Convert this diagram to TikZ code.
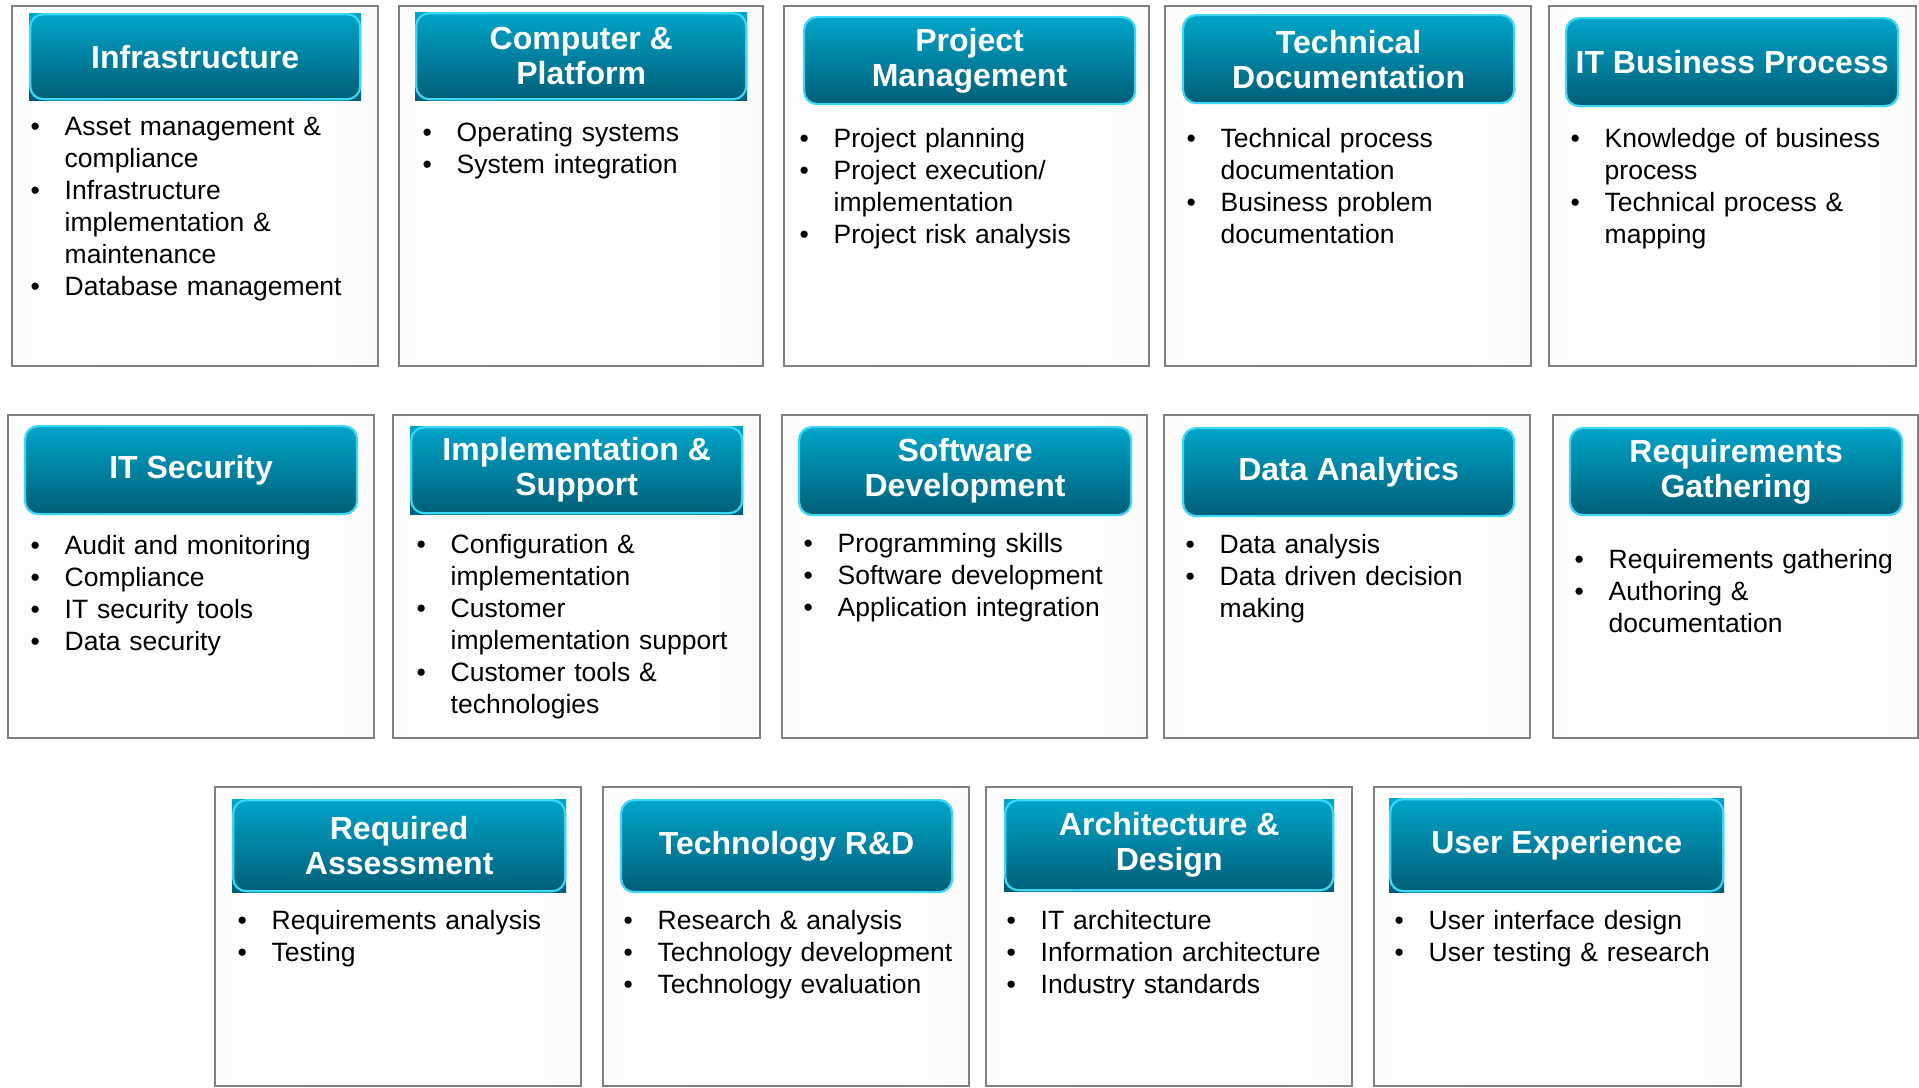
\documentclass[tikz,border=0pt]{standalone}
\usepackage{fontspec}
\setmainfont{Liberation Sans}
\begin{document}
\definecolor{headtop}{HTML}{00A5CA}
\definecolor{headbot}{HTML}{005E76}
\definecolor{headrim}{HTML}{3CD6F6}
\definecolor{cardline}{HTML}{808080}
\pgfdeclarehorizontalshading{cardshade}{100bp}{color(0bp)=(white!97!black); color(40bp)=(white); color(65bp)=(white); color(100bp)=(white!93!black)}
\newcommand\bl{\makebox[34pt][l]{\textbullet}}
\newcommand\ct{\hspace*{34pt}}
\begin{tikzpicture}[x=1pt,y=-1pt,
  cardbox/.style={draw=cardline, line width=1.8pt, inner sep=0pt, shading=cardshade},
  headround/.style={draw=headrim, line width=2.2pt, rounded corners=13pt,
    top color=headtop, bottom color=headbot, inner sep=0pt,
    text=white, align=center, font=\bfseries\fontsize{32}{35}\selectfont},
  headsquare/.style={top color=headtop, bottom color=headbot, inner sep=0pt,
    text=white, align=center, font=\bfseries\fontsize{32}{35}\selectfont},
  rim/.style={draw=headrim, line width=2.2pt, rounded corners=13pt},
  body/.style={anchor=base west, inner sep=0pt, text width=340pt, align=left,
    font=\fontsize{26.5}{32}\selectfont}]
\useasboundingbox (0,0) rectangle (1919,1087);

% ---------- first row ----------
\node[cardbox, anchor=north west, minimum width=366pt, minimum height=360pt] (c1) at (11,5) {};
\node[headsquare, anchor=north west, minimum width=332pt, minimum height=87pt] (h1) at (29,13) {Infrastructure};
\draw[rim] ([shift={(1.2,1.2)}]h1.north west) rectangle ([shift={(-1.2,-1.2)}]h1.south east);
\node[body] (b1) at (30.5,135) {\bl Asset management \&\\ \ct compliance\\ \bl Infrastructure\\ \ct implementation \&\\ \ct maintenance\\ \bl Database management};

\node[cardbox, anchor=north west, minimum width=364pt, minimum height=360pt] (c2) at (398,5) {};
\node[headsquare, anchor=north west, minimum width=332pt, minimum height=88pt] (h2) at (415,12) {Computer \&\\ Platform};
\draw[rim] ([shift={(1.2,1.2)}]h2.north west) rectangle ([shift={(-1.2,-1.2)}]h2.south east);
\node[body] (b2) at (422.5,141) {\bl Operating systems\\ \bl System integration};

\node[cardbox, anchor=north west, minimum width=365pt, minimum height=360pt] (c3) at (783,5) {};
\node[headround, anchor=north west, minimum width=331pt, minimum height=87pt] (h3) at (803,16) {Project\\ Management};
\node[body] (b3) at (799.5,147) {\bl Project planning\\ \bl Project execution/\\ \ct implementation\\ \bl Project risk analysis};

\node[cardbox, anchor=north west, minimum width=366pt, minimum height=360pt] (c4) at (1164,5) {};
\node[headround, anchor=north west, minimum width=331pt, minimum height=88pt] (h4) at (1182,14) {Technical\\ Documentation};
\node[body] (b4) at (1186.5,147) {\bl Technical process\\ \ct documentation\\ \bl Business problem\\ \ct documentation};

\node[cardbox, anchor=north west, minimum width=367pt, minimum height=360pt] (c5) at (1548,5) {};
\node[headround, anchor=north west, minimum width=332pt, minimum height=88pt] (h5) at (1565,17) {IT Business Process};
\node[body] (b5) at (1570.5,147) {\bl Knowledge of business\\ \ct process\\ \bl Technical process \&\\ \ct mapping};

% ---------- second row ----------
\node[cardbox, anchor=north west, minimum width=366pt, minimum height=323pt] (c6) at (7,414) {};
\node[headround, anchor=north west, minimum width=332pt, minimum height=88pt] (h6) at (24,425) {IT Security};
\node[body] (b6) at (30.5,554) {\bl Audit and monitoring\\ \bl Compliance\\ \bl IT security tools\\ \bl Data security};

\node[cardbox, anchor=north west, minimum width=367pt, minimum height=323pt] (c7) at (392,414) {};
\node[headsquare, anchor=north west, minimum width=333pt, minimum height=88pt] (h7) at (410,426) {Implementation \&\\ Support};
\draw[rim] ([shift={(1.2,1.2)}]h7.north west) rectangle ([shift={(-1.2,-1.2)}]h7.south east);
\node[body] (b7) at (416.5,553) {\bl Configuration \&\\ \ct implementation\\ \bl Customer\\ \ct implementation support\\ \bl Customer tools \&\\ \ct technologies};

\node[cardbox, anchor=north west, minimum width=365pt, minimum height=323pt] (c8) at (781,414) {};
\node[headround, anchor=north west, minimum width=332pt, minimum height=88pt] (h8) at (798,426) {Software\\ Development};
\node[body] (b8) at (803.5,552) {\bl Programming skills\\ \bl Software development\\ \bl Application integration};

\node[cardbox, anchor=north west, minimum width=366pt, minimum height=323pt] (c9) at (1163,414) {};
\node[headround, anchor=north west, minimum width=331pt, minimum height=88pt] (h9) at (1182,427) {Data Analytics};
\node[body] (b9) at (1185.5,553) {\bl Data analysis\\ \bl Data driven decision\\ \ct making};

\node[cardbox, anchor=north west, minimum width=365pt, minimum height=323pt] (c10) at (1552,414) {};
\node[headround, anchor=north west, minimum width=332pt, minimum height=87pt] (h10) at (1569,427) {Requirements\\ Gathering};
\node[body] (b10) at (1574.5,568) {\bl Requirements gathering\\ \bl Authoring \&\\ \ct documentation};

% ---------- third row ----------
\node[cardbox, anchor=north west, minimum width=366pt, minimum height=299pt] (c11) at (214,786) {};
\node[headsquare, anchor=north west, minimum width=334pt, minimum height=93pt] (h11) at (232,799) {Required\\ Assessment};
\draw[rim] ([shift={(1.2,1.2)}]h11.north west) rectangle ([shift={(-1.2,-1.2)}]h11.south east);
\node[body] (b11) at (237.5,929) {\bl Requirements analysis\\ \bl Testing};

\node[cardbox, anchor=north west, minimum width=366pt, minimum height=299pt] (c12) at (602,786) {};
\node[headround, anchor=north west, minimum width=331pt, minimum height=92pt] (h12) at (620,799) {Technology R\&D};
\node[body] (b12) at (623.5,929) {\bl Research \& analysis\\ \bl Technology development\\ \bl Technology evaluation};

\node[cardbox, anchor=north west, minimum width=366pt, minimum height=299pt] (c13) at (985,786) {};
\node[headsquare, anchor=north west, minimum width=330pt, minimum height=92pt] (h13) at (1004,799) {Architecture \&\\ Design};
\draw[rim] ([shift={(1.2,1.2)}]h13.north west) rectangle ([shift={(-1.2,-1.2)}]h13.south east);
\node[body] (b13) at (1006.5,929) {\bl IT architecture\\ \bl Information architecture\\ \bl Industry standards};

\node[cardbox, anchor=north west, minimum width=367pt, minimum height=299pt] (c14) at (1373,786) {};
\node[headsquare, anchor=north west, minimum width=335pt, minimum height=94pt] (h14) at (1389,798) {User Experience};
\draw[rim] ([shift={(1.2,1.2)}]h14.north west) rectangle ([shift={(-1.2,-1.2)}]h14.south east);
\node[body] (b14) at (1394.5,929) {\bl User interface design\\ \bl User testing \& research};
\end{tikzpicture}
\end{document}
